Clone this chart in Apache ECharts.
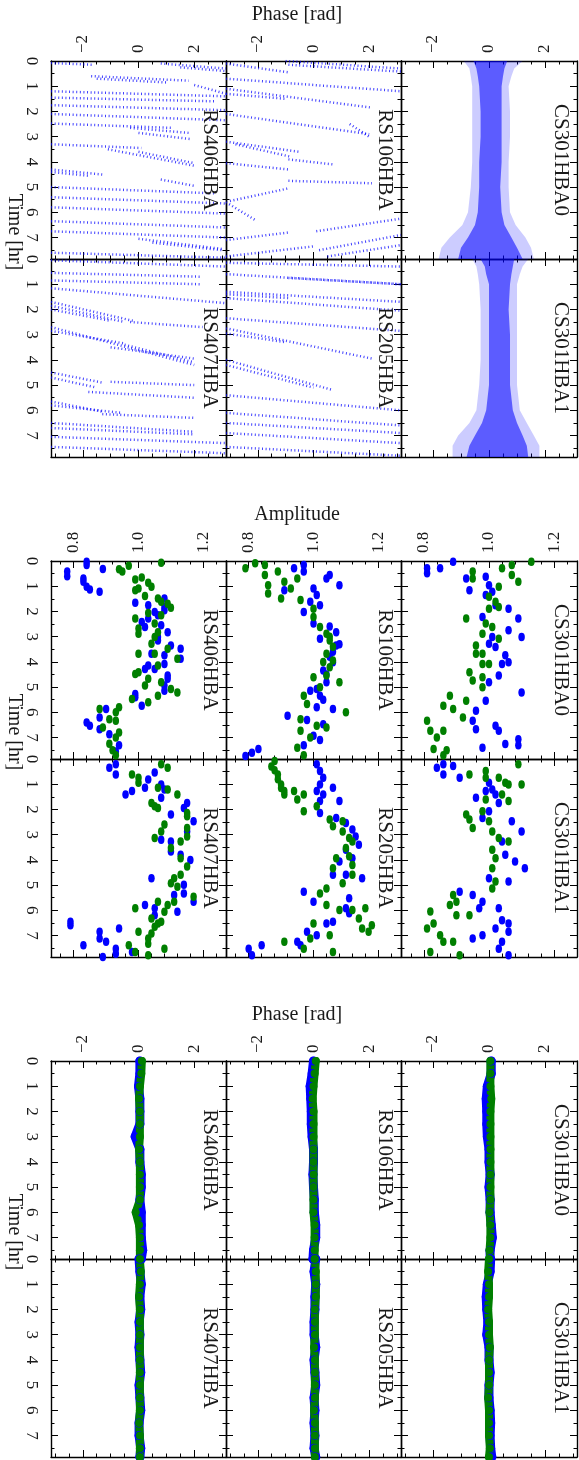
<!DOCTYPE html>
<html>
<head>
<meta charset="utf-8">
<script src="https://cdn.jsdelivr.net/npm/echarts@6/dist/echarts.min.js"></script>
<style>
  html, body { margin: 0; padding: 0; background: #fff; }
  #chart { width: 579px; height: 1460px; }
</style>
</head>
<body>
<div id="chart"></div>
<script>
// ---- axes ----
const phaseRange = [-Math.PI, Math.PI];
const phaseTicks = [-2, 0, 2];
const phaseMinor = [-3, -2.5, -1.5, -1, -0.5, 0.5, 1, 1.5, 2.5, 3];
const ampRange = [0.73, 1.27];
const ampTicks = [0.8, 1.0, 1.2];
const ampMinor = [0.76, 0.84, 0.88, 0.92, 0.96, 1.04, 1.08, 1.12, 1.16, 1.24];
const hourRange = [0, 7.85];
const hourTicks = [0, 1, 2, 3, 4, 5, 6, 7];
const hourMinor = [0.5, 1.5, 2.5, 3.5, 4.5, 5.5, 6.5, 7.5];

const stationNames = [["RS406HBA", "RS106HBA", "CS301HBA0"], ["RS407HBA", "RS205HBA", "CS301HBA1"]];
const blockTitles = ["Phase [rad]", "Amplitude", "Phase [rad]"];

// ---- block 1: raw phases, streaks [phase0, hr0, phase1, hr1] ----
const rs406Streaks = [
  [-3.14, 0.08, -1.6, 0.15], [0.8, 0.1, 3.14, 0.3], [1.5, 0.25, 3.14, 0.4],
  [-1.7, 0.6, 1.8, 0.78], [-1.5, 0.7, 1.0, 0.85], [2.0, 0.95, 3.14, 1.3],
  [-3.14, 1.2, 3.14, 1.4], [-3.14, 1.45, 2.8, 1.6], [-3.14, 1.75, 3.14, 1.95], [-3.14, 2.1, 3.14, 2.35],
  [-3.14, 2.48, 1.2, 2.65], [-0.3, 2.65, 1.8, 2.85], [0.0, 2.85, 1.9, 3.1],
  [-3.14, 3.3, 0.1, 3.45], [-1.1, 3.5, 2.0, 4.15], [0.0, 3.6, 2.0, 4.05],
  [-3.14, 4.3, -1.3, 4.5], [-3.14, 4.4, -1.8, 4.55], [0.8, 4.7, 2.0, 4.95],
  [-3.14, 5.0, 2.8, 5.25], [-3.14, 5.4, 3.14, 5.65], [-3.14, 5.8, 3.14, 6.05], [-3.14, 6.35, 3.14, 6.6],
  [-3.14, 6.75, 3.14, 7.0], [0.0, 7.05, 3.0, 7.45], [0.5, 7.2, 3.0, 7.5], [-3.14, 7.6, 3.14, 7.8]
];
const rs106Streaks = [
  [-3.14, 0.1, -0.9, 0.45], [-1.0, 0.0, 3.14, 0.3], [-0.9, 0.15, 3.14, 0.42],
  [-3.14, 0.7, 3.14, 1.2], [-3.14, 1.1, 2.1, 1.85], [-3.14, 1.3, -1.0, 1.5],
  [-3.14, 2.1, 2.0, 2.9], [1.3, 2.5, 2.0, 3.0],
  [-2.8, 3.3, -0.8, 3.8], [-3.14, 3.2, -0.5, 3.6],
  [-3.14, 4.05, -0.9, 4.3], [-0.9, 3.9, 0.7, 4.1], [-0.9, 4.75, 2.1, 4.85],
  [-3.0, 5.55, -0.9, 5.05], [-3.14, 5.6, -2.1, 6.3], [0.1, 6.75, 3.14, 6.25],
  [-3.14, 7.1, -0.9, 6.8], [0.2, 7.5, 3.14, 6.9], [0.5, 7.75, 3.14, 7.3], [-3.14, 7.75, 0.0, 7.35]
];
const rs407Streaks = [
  [-3.14, 0.05, 3.14, 0.3], [-3.14, 0.55, 2.2, 0.7], [-3.14, 0.85, 2.2, 1.0],
  [-3.14, 1.16, 3.14, 1.75], [-3.14, 1.7, -0.2, 2.45], [-3.14, 1.85, -0.5, 2.5], [-3.14, 2.0, -1.0, 2.45],
  [-0.3, 2.5, 2.3, 2.7], [-3.14, 2.7, 2.0, 4.2], [-3.14, 2.85, -0.5, 3.35], [-0.5, 3.4, 2.0, 4.1],
  [-1.0, 3.5, 2.0, 3.95], [-3.14, 4.5, -1.3, 4.9], [-3.14, 4.7, -1.5, 5.1], [-1.0, 4.87, 2.0, 5.0],
  [-1.8, 5.27, 2.0, 5.5], [-3.14, 5.65, -1.3, 6.05], [-3.14, 5.8, -0.6, 6.1], [-1.3, 6.15, 2.0, 6.3],
  [-3.14, 6.5, 2.0, 6.85], [-3.14, 6.7, 2.0, 6.95], [-3.14, 7.05, 3.14, 7.3], [-3.14, 7.45, 3.14, 7.7]
];
const rs205Streaks = [
  [-3.14, 0.15, 3.14, 0.3], [-3.14, 0.6, 3.14, 1.0], [-0.9, 0.75, 3.14, 1.0], [-3.14, 1.3, 3.14, 1.7],
  [-3.14, 1.4, -0.9, 1.55], [-3.14, 1.55, 3.14, 2.05], [-3.14, 2.35, 3.14, 2.85], [-3.14, 2.75, 2.1, 3.95],
  [-3.14, 2.95, -1.0, 3.3], [-3.14, 4.0, 0.7, 5.2], [-3.14, 4.2, 0.0, 5.1], [-3.14, 5.4, 3.14, 6.0],
  [-3.14, 6.1, 3.14, 6.6], [-3.14, 6.5, 3.14, 6.9], [-3.14, 6.9, 3.14, 7.3], [-3.14, 7.45, 3.14, 7.8]
];
// CS301 bands: phase edges at bandHours
const bandHours = [0, 0.3, 0.6, 1, 2, 3, 4, 5, 6, 6.5, 7, 7.4, 7.85];
const hba0HaloL = [-0.9, -0.7, -0.65, -0.6, -0.6, -0.6, -0.6, -0.65, -0.75, -0.95, -1.4, -1.7, -1.8];
const hba0HaloR = [1.2, 0.9, 0.8, 0.7, 0.75, 0.75, 0.7, 0.7, 0.75, 0.95, 1.3, 1.5, 1.6];
const hba0CoreL = [-0.55, -0.45, -0.4, -0.35, -0.3, -0.3, -0.35, -0.35, -0.4, -0.5, -0.75, -1.0, -1.1];
const hba0CoreR = [0.65, 0.55, 0.5, 0.45, 0.45, 0.45, 0.45, 0.4, 0.45, 0.55, 0.8, 1.0, 1.2];
const hba1HaloL = [-0.6, -0.45, -0.4, -0.35, -0.3, -0.3, -0.3, -0.35, -0.45, -0.7, -1.1, -1.3, -1.3];
const hba1HaloR = [1.4, 1.2, 1.1, 1.0, 1.0, 1.0, 1.0, 1.0, 1.1, 1.35, 1.6, 1.8, 1.8];
const hba1CoreL = [-0.3, -0.15, -0.1, 0.0, 0.0, 0.0, 0.0, 0.0, -0.1, -0.25, -0.5, -0.7, -0.8];
const hba1CoreR = [0.9, 0.85, 0.8, 0.75, 0.7, 0.75, 0.75, 0.75, 0.85, 1.0, 1.2, 1.35, 1.4];

// ---- block 2: amplitudes [amp, hr] ----
const amp406Blue = [[0.78,0.42],[0.78,0.60],[0.84,0.16],[0.84,0.03],[0.83,0.69],[0.83,0.82],[0.84,1.02],[0.85,1.13],[0.88,1.22],[0.89,0.32],[0.99,1.66],[1.03,1.75],[1.03,2.28],[1.01,2.42],[1.05,2.02],[1.06,2.15],[1.08,1.49],[1.08,1.82],[1.08,1.95],[1.07,2.55],[1.02,2.62],[1.06,3.01],[1.06,3.15],[1.09,2.82],[1.10,3.35],[1.13,3.48],[1.13,3.88],[1.08,3.74],[1.04,3.68],[1.03,4.14],[1.02,4.28],[1.05,4.28],[1.08,4.08],[1.09,4.54],[1.08,5.14],[1.08,4.94],[1.09,4.67],[0.99,5.27],[0.99,5.40],[1.01,5.74],[0.90,5.87],[0.88,6.20],[0.84,6.40],[0.85,6.53],[0.88,6.67],[0.91,6.87],[0.94,7.30],[0.93,7.55]];
const amp406Green = [[0.94,0.33],[0.95,0.42],[0.97,0.19],[1.07,0.07],[0.99,0.73],[1.01,0.65],[1.03,0.86],[1.04,1.02],[0.99,1.16],[1.00,1.09],[1.02,1.39],[1.06,1.49],[1.07,1.62],[1.10,1.85],[1.09,1.69],[1.03,2.06],[1.07,2.15],[0.99,2.28],[1.05,2.48],[1.06,2.82],[1.00,2.68],[1.00,2.88],[1.05,3.01],[1.00,3.68],[1.04,3.28],[1.09,3.48],[1.12,3.88],[1.05,3.68],[1.06,4.14],[0.99,4.48],[1.00,4.41],[1.03,4.67],[1.02,4.94],[1.07,4.81],[1.10,5.07],[1.12,5.21],[1.06,5.34],[0.98,5.47],[1.03,5.60],[0.94,5.80],[0.93,6.00],[0.88,5.87],[0.91,6.27],[0.93,6.33],[0.89,6.60],[0.94,6.80],[0.93,7.00],[0.91,7.25],[0.92,7.50],[0.93,7.70]];
const amp106Blue = [[0.91,1.16],[0.92,6.14],[0.94,0.29],[0.97,0.16],[0.97,0.42],[1.04,0.69],[1.05,0.56],[1.08,0.96],[1.00,1.09],[1.01,1.35],[0.99,1.62],[1.02,1.75],[0.97,2.02],[1.00,2.48],[1.02,3.08],[1.07,2.82],[1.07,3.35],[1.08,3.30],[1.06,4.01],[1.03,4.34],[1.04,4.81],[1.01,5.07],[1.02,5.34],[1.06,5.87],[0.99,5.14],[1.01,5.80],[1.03,6.47],[1.00,6.93],[0.79,7.73],[0.81,7.60],[0.83,7.45],[1.05,2.60],[1.06,3.60],[1.05,3.80],[1.04,4.50],[1.03,5.50],[0.98,6.30],[1.02,7.10],[0.97,7.30]];
const amp106Green = [[0.79,0.29],[0.82,0.09],[0.85,0.16],[0.85,0.56],[0.86,0.96],[0.86,1.29],[0.90,1.49],[0.89,0.42],[0.91,0.82],[0.95,0.69],[0.93,1.09],[0.96,1.55],[1.00,2.22],[1.00,1.89],[1.02,2.62],[1.04,2.88],[1.05,3.15],[1.04,3.68],[1.05,4.21],[1.06,3.94],[1.04,4.54],[1.08,4.81],[1.00,4.61],[1.02,5.01],[0.97,5.34],[0.98,5.67],[0.96,6.27],[0.96,6.73],[1.01,6.53],[1.04,6.60],[1.10,6.00],[0.99,7.00],[1.05,3.00],[1.06,3.40],[1.03,4.00],[0.95,7.40],[0.97,7.70]];
const ampHba0Blue = [[0.81,0.29],[0.81,0.49],[0.85,0.29],[0.89,0.03],[0.93,0.69],[0.94,1.16],[0.99,0.62],[1.00,0.96],[0.99,1.35],[1.01,1.22],[1.02,1.75],[1.06,1.89],[1.09,2.28],[0.98,2.22],[1.00,3.28],[1.01,3.01],[1.02,3.41],[1.05,3.74],[1.06,4.01],[1.04,4.08],[1.03,4.54],[1.10,5.21],[1.00,4.81],[0.99,5.54],[0.96,5.94],[0.95,6.33],[0.96,6.67],[1.02,6.53],[1.03,6.73],[1.09,7.07],[1.06,2.75],[1.10,3.01],[0.98,7.40],[1.05,7.26],[1.09,7.30]];
const ampHba0Green = [[0.95,0.42],[0.95,0.69],[1.04,0.29],[1.07,0.16],[1.13,0.03],[1.07,0.56],[1.09,0.82],[1.03,1.02],[1.00,1.42],[1.02,1.62],[1.03,1.82],[1.00,1.89],[0.99,2.48],[1.01,2.62],[0.98,2.88],[0.96,3.35],[0.96,3.68],[0.98,3.68],[0.98,4.08],[0.94,4.41],[0.95,4.74],[0.93,2.28],[1.03,3.08],[1.00,4.08],[0.98,5.01],[0.93,5.54],[0.88,5.34],[0.89,5.87],[0.86,5.74],[0.92,6.20],[0.81,6.33],[0.82,6.73],[0.86,6.73],[0.84,7.00],[0.98,4.61],[0.83,7.45],[0.86,7.70],[0.87,7.50]];
const amp407Blue = [[0.91,0.35],[0.93,0.21],[0.93,0.61],[0.96,1.41],[0.98,1.27],[1.02,1.14],[1.03,0.81],[1.05,0.54],[1.07,1.01],[1.08,1.21],[1.07,1.54],[1.10,2.20],[1.14,1.94],[1.15,1.74],[1.17,2.47],[1.15,2.87],[1.07,3.20],[1.10,3.27],[1.10,3.67],[1.13,3.80],[1.16,4.00],[1.14,4.99],[1.14,5.33],[1.17,5.66],[1.11,5.39],[1.12,6.06],[1.04,4.73],[1.02,5.79],[1.05,5.92],[1.05,6.19],[0.94,6.72],[0.79,6.45],[0.79,6.59],[0.88,6.85],[0.88,7.12],[0.90,7.25],[0.83,7.38],[0.93,7.52],[0.93,7.72],[0.89,7.85],[0.98,7.65]];
const amp407Green = [[0.98,0.61],[1.00,0.74],[1.00,0.94],[1.07,0.21],[1.09,0.35],[1.06,1.14],[1.09,1.21],[1.12,1.41],[1.04,1.74],[1.05,1.87],[1.06,1.94],[1.15,2.14],[1.15,2.27],[1.08,2.60],[1.07,2.87],[1.05,3.13],[1.15,2.74],[1.15,3.07],[1.13,3.27],[1.10,3.53],[1.13,3.93],[1.15,4.26],[1.13,4.59],[1.11,4.73],[1.10,4.93],[1.12,5.06],[1.17,5.46],[1.11,5.66],[1.09,5.79],[1.08,6.06],[1.06,5.66],[0.99,5.92],[1.04,6.32],[1.06,6.52],[1.05,6.65],[1.07,6.45],[1.00,6.85],[1.03,7.12],[1.03,7.32],[1.04,6.92],[0.97,7.38],[0.99,7.65],[1.08,7.52],[1.03,7.78]];
const amp205Blue = [[0.80,7.52],[0.84,7.38],[0.81,7.78],[1.01,0.21],[1.02,0.48],[1.03,0.74],[1.02,1.01],[1.01,1.27],[1.03,1.41],[1.06,1.14],[1.02,1.67],[1.08,1.67],[1.02,2.14],[1.07,2.34],[1.10,2.54],[1.12,2.80],[1.13,3.07],[1.14,3.40],[1.10,3.60],[1.08,4.06],[1.06,4.59],[1.10,4.59],[1.12,3.93],[1.15,4.73],[0.97,5.26],[1.00,5.66],[1.11,5.52],[1.10,5.92],[1.11,6.12],[1.04,6.52],[1.06,6.45],[0.98,6.85],[1.01,6.99],[0.95,7.25],[0.96,7.38]];
const amp205Green = [[0.88,0.08],[0.87,0.30],[0.88,0.45],[0.89,0.61],[0.89,0.80],[0.90,1.01],[0.90,1.15],[0.91,1.27],[0.91,1.41],[0.91,7.25],[0.94,1.27],[0.95,1.61],[0.97,1.41],[1.01,1.87],[0.97,2.07],[1.05,2.40],[1.06,2.67],[1.09,2.47],[1.09,2.87],[1.11,3.13],[1.12,3.27],[1.10,3.53],[1.11,3.86],[1.12,4.20],[1.12,4.59],[1.07,3.93],[1.06,4.33],[1.09,4.93],[1.04,5.13],[1.02,5.33],[1.04,5.79],[1.08,5.99],[1.14,6.32],[1.16,5.92],[1.18,6.59],[1.17,6.85],[1.15,6.72],[1.05,6.99],[1.00,6.52],[0.99,7.12],[0.97,7.52],[1.06,7.65],[1.12,5.99]];
const ampHba1Blue = [[0.84,0.35],[0.86,0.21],[0.86,0.61],[0.89,0.28],[0.91,0.74],[0.96,1.54],[0.99,1.27],[1.00,0.94],[1.01,1.21],[1.02,1.41],[0.98,2.34],[1.00,2.07],[1.03,1.74],[1.07,2.47],[1.10,2.87],[1.04,3.27],[1.05,3.80],[1.08,4.06],[1.11,4.33],[1.06,4.86],[1.00,4.73],[0.95,5.39],[0.91,5.26],[0.98,5.66],[0.97,5.92],[1.03,5.92],[1.04,6.39],[1.06,6.52],[1.02,6.72],[0.95,7.12],[0.98,6.99],[1.04,7.25],[1.03,7.52],[1.06,6.85],[1.06,7.78]];
const ampHba1Green = [[0.93,2.20],[0.94,2.40],[0.95,2.74],[0.94,0.61],[0.99,0.48],[0.99,0.74],[1.03,0.74],[1.05,0.94],[1.06,1.01],[1.10,1.01],[1.09,0.21],[1.04,1.41],[1.06,1.67],[0.99,1.61],[0.98,2.07],[1.00,2.47],[1.01,2.87],[1.03,3.13],[1.06,3.27],[1.01,3.60],[1.02,3.93],[1.01,4.33],[1.02,4.86],[1.01,5.13],[0.89,5.39],[0.88,5.79],[0.90,5.66],[0.90,6.19],[0.82,6.05],[0.81,6.72],[0.83,6.52],[0.85,6.99],[0.86,7.25],[0.89,7.25],[0.82,7.65],[0.91,7.78],[0.94,6.19]];

// ---- block 3: solved phases at solHours ----
const solHours = [0, 0.5, 1, 1.5, 2, 2.5, 3, 3.5, 4, 4.5, 5, 5.5, 6, 6.5, 7, 7.5, 7.85];
const sol406Blue = [0.05, 0.05, 0.0, 0.05, 0.05, 0.05, -0.12, 0.05, 0.05, 0.1, 0.1, 0.05, 0.1, 0.1, 0.1, 0.15, 0.1];
const sol406Green = [0.12, 0.1, 0.05, 0.02, 0.05, 0.05, 0.05, 0.02, 0.05, 0.05, 0.05, 0.05, -0.1, 0.02, 0.05, 0.05, 0.05];
const sol106Blue = [0.0, -0.05, -0.12, -0.1, -0.08, -0.08, -0.05, 0.0, 0.0, -0.02, 0.0, 0.03, 0.03, 0.08, 0.08, 0.0, -0.02];
const sol106Green = [0.08, 0.04, 0.0, -0.03, 0.0, 0.0, 0.0, 0.0, 0.0, 0.0, 0.0, 0.0, 0.0, 0.04, 0.04, 0.04, 0.04];
const solHba0Blue = [0.08, 0.08, -0.06, -0.1, -0.08, -0.08, -0.06, 0.0, 0.0, 0.04, 0.0, 0.04, 0.04, 0.08, 0.12, 0.04, 0.04];
const solHba0Green = [0.05, 0.05, 0.05, 0.08, 0.05, 0.05, 0.05, 0.05, 0.05, 0.05, 0.05, 0.05, 0.02, 0.05, 0.05, 0.02, 0.05];
const sol407Blue = [0.02, 0.05, 0.1, 0.05, 0.08, 0.02, 0.05, 0.02, 0.05, 0.08, 0.02, 0.05, 0.08, 0.02, 0.02, 0.08, 0.05];
const sol407Green = [0.05, 0.08, 0.05, 0.02, 0.05, 0.05, 0.05, 0.05, 0.05, 0.05, 0.05, 0.05, 0.05, 0.02, 0.05, 0.05, 0.05];
const sol205Blue = [0.08, 0.02, 0.08, 0.05, 0.05, 0.02, 0.02, 0.08, 0.02, 0.05, 0.08, 0.02, 0.05, 0.02, 0.05, 0.02, 0.08];
const sol205Green = [0.05, 0.08, 0.08, 0.08, 0.05, 0.05, 0.05, 0.02, 0.05, 0.05, 0.05, 0.05, 0.02, 0.05, 0.05, 0.05, 0.05];
const solHba1Blue = [0.06, 0.04, -0.06, -0.1, -0.08, -0.04, -0.08, 0.0, 0.0, 0.04, 0.0, 0.0, 0.04, 0.06, 0.04, 0.06, 0.1];
const solHba1Green = [0.0, -0.03, 0.0, 0.0, -0.03, 0.0, 0.0, 0.03, 0.0, 0.0, 0.0, -0.03, 0.0, 0.0, 0.0, 0.03, 0.0];

// ---- layout ----
const colX = [51, 226, 401, 577];
const blockTop = [61, 561, 1061];
const rowH = 198;
const FONT = '"Liberation Serif", "DejaVu Serif", serif';
const INK = "#1a1a1a";
const BLUE = "#0000ff";
const GREEN = "#007f00";

const streaks = [[rs406Streaks, rs106Streaks, null], [rs407Streaks, rs205Streaks, null]];
const bands = [[null, null, [hba0HaloL, hba0HaloR, hba0CoreL, hba0CoreR]], [null, null, [hba1HaloL, hba1HaloR, hba1CoreL, hba1CoreR]]];
const ampBlue = [[amp406Blue, amp106Blue, ampHba0Blue], [amp407Blue, amp205Blue, ampHba1Blue]];
const ampGreen = [[amp406Green, amp106Green, ampHba0Green], [amp407Green, amp205Green, ampHba1Green]];
const solBlue = [[sol406Blue, sol106Blue, solHba0Blue], [sol407Blue, sol205Blue, solHba1Blue]];
const solGreen = [[sol406Green, sol106Green, solHba0Green], [sol407Green, sol205Green, solHba1Green]];

const fmtPhase = v => (v < 0 ? "\u2212" : "") + Math.abs(v);
const fmtAmp = v => v.toFixed(1);

const grids = [], xAxes = [], yAxes = [], series = [], graphics = [];

function axisPair(dim, g, pos, range, major, minor, labels, fmt) {
  const common = { gridIndex: g, type: "value", position: pos, min: range[0], max: range[1],
    inverse: dim === "y", splitLine: { show: false } };
  const majorAxis = Object.assign({}, common, {
    axisLine: { show: true, onZero: false, lineStyle: { color: "#000", width: 1.4 } },
    axisTick: { show: true, inside: true, length: 7, customValues: major, lineStyle: { color: "#000", width: 1 } },
    axisLabel: labels ? { show: true, customValues: major, rotate: -90, margin: dim === "x" ? 8 : 11,
      fontFamily: FONT, fontSize: 17, color: INK, formatter: fmt } : { show: false }
  });
  const minorAxis = Object.assign({}, common, {
    axisLine: { show: false, onZero: false },
    axisTick: { show: true, inside: true, length: 3.5, customValues: minor, lineStyle: { color: "#000", width: 1 } },
    axisLabel: { show: false }
  });
  return [majorAxis, minorAxis];
}

for (let b = 0; b < 3; b++) {
  const isAmp = b === 1;
  for (let r = 0; r < 2; r++) {
    for (let c = 0; c < 3; c++) {
      const g = grids.length;
      const left = colX[c], top = blockTop[b] + r * rowH, width = colX[c + 1] - colX[c];
      grids.push({ left: left, top: top, width: width, height: rowH });
      const xr = isAmp ? ampRange : phaseRange;
      const xm = isAmp ? ampTicks : phaseTicks;
      const xn = isAmp ? ampMinor : phaseMinor;
      const xf = isAmp ? fmtAmp : fmtPhase;
      const xi = xAxes.length, yi = yAxes.length;
      xAxes.push(...axisPair("x", g, "top", xr, xm, xn, r === 0, xf));
      xAxes.push(...axisPair("x", g, "bottom", xr, xm, xn, false, xf));
      yAxes.push(...axisPair("y", g, "left", hourRange, hourTicks, hourMinor, c === 0, v => String(v)));
      yAxes.push(...axisPair("y", g, "right", hourRange, hourTicks, hourMinor, false, null));

      if (b === 0) {
        if (streaks[r][c]) {
          series.push({ type: "lines", coordinateSystem: "cartesian2d", xAxisIndex: xi, yAxisIndex: yi,
            clip: true, silent: true,
            data: streaks[r][c].map(s => ({ coords: [[s[0], s[1]], [s[2], s[3]]] })),
            lineStyle: { color: BLUE, width: 2.5, type: [1, 2.6], opacity: 0.75 } });
        } else {
          const bd = bands[r][c];
          [[bd[0], bd[1], "rgba(0,0,255,0.2)"], [bd[2], bd[3], "rgba(0,0,255,0.55)"]].forEach(([L, R, fill]) => {
            series.push({ type: "custom", xAxisIndex: xi, yAxisIndex: yi, clip: true, silent: true,
              data: [[0, 0]],
              renderItem: (params, api) => {
                const pts = L.map((v, i) => api.coord([v, bandHours[i]]))
                  .concat(R.map((v, i) => api.coord([v, bandHours[i]])).reverse());
                return { type: "polygon", shape: { points: echarts.graphic.clipPointsByRect(pts, params.coordSys) },
                  style: { fill: fill } };
              } });
          });
        }
      } else if (b === 1) {
        series.push({ type: "scatter", xAxisIndex: xi, yAxisIndex: yi, data: ampBlue[r][c], symbol: "circle",
          symbolSize: [6.5, 8.5], itemStyle: { color: BLUE, opacity: 1 }, silent: true });
        series.push({ type: "scatter", xAxisIndex: xi, yAxisIndex: yi, data: ampGreen[r][c], symbol: "circle",
          symbolSize: [6.5, 8.5], itemStyle: { color: GREEN, opacity: 1 }, silent: true });
      } else {
        [[solBlue[r][c], BLUE, 9], [solGreen[r][c], GREEN, 8]].forEach(([vals, col, w]) => {
          series.push({ type: "line", xAxisIndex: xi, yAxisIndex: yi, silent: true,
            data: vals.map((v, i) => [v, solHours[i]]),
            symbol: "circle", symbolSize: w, showSymbol: true, itemStyle: { color: col, opacity: 1 },
            lineStyle: { color: col, width: w, cap: "round", join: "round" } });
        });
      }

      graphics.push({ type: "text", x: colX[c + 1] - 16, y: top + rowH / 2, rotation: -Math.PI / 2, z: 100,
        style: { text: stationNames[r][c], font: "21px " + FONT, fill: INK, align: "center", verticalAlign: "middle" } });
    }
  }
  graphics.push({ type: "text", x: 297, y: blockTop[b] - 46, z: 100,
    style: { text: blockTitles[b], font: "20px " + FONT, fill: INK, align: "center", verticalAlign: "middle" } });
  graphics.push({ type: "text", x: 14, y: blockTop[b] + 171, rotation: -Math.PI / 2, z: 100,
    style: { text: "Time [hr]", font: "20px " + FONT, fill: INK, align: "center", verticalAlign: "middle" } });
}

const chart = echarts.init(document.getElementById("chart"), null, { renderer: "canvas" });
chart.setOption({
  animation: false,
  backgroundColor: "#fff",
  grid: grids,
  xAxis: xAxes,
  yAxis: yAxes,
  series: series,
  graphic: graphics
});
</script>
</body>
</html>
